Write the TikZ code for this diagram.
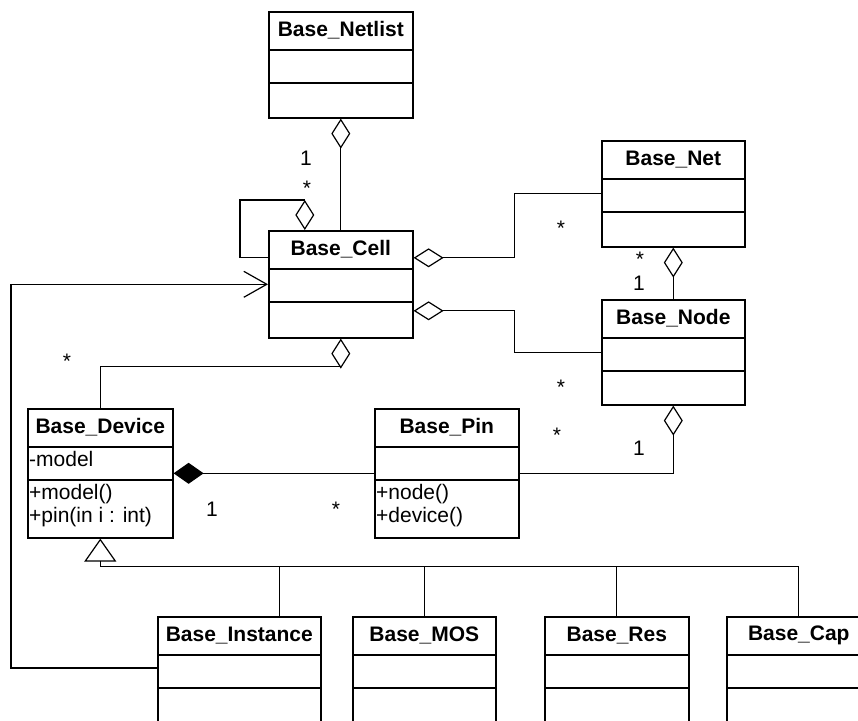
\documentclass[tikz,border=0pt]{standalone}
\usepackage{fontspec}
\setmainfont{Liberation Sans}
\usetikzlibrary{arrows.meta,positioning}

\newcommand{\umlclass}[8]{%
  \node[cls, minimum width=#4pt, minimum height=#5pt, anchor=north west] (#1) at (#2,#3) {};
  \node[clstitle] (#1-title) at ([yshift=-19.5pt]#1.north) {#6};
  \draw[clsline] ([yshift=-39pt]#1.north west) -- ([yshift=-39pt]#1.north east);
  \draw[clsline] ([yshift=-72pt]#1.north west) -- ([yshift=-72pt]#1.north east);
  \node[clstext] (#1-attr) at ([yshift=-39pt]#1.north west) {#7};
  \node[clstext] (#1-ops) at ([yshift=-72pt]#1.north west) {#8};
}

\begin{document}
\begin{tikzpicture}[
  x=1pt, y=-1pt,
  every node/.style={font=\fontsize{21}{23}\selectfont},
  cls/.style={draw, line width=1.6pt, inner sep=0pt},
  clsline/.style={line width=1.6pt},
  clstitle/.style={font=\fontsize{21}{23}\selectfont\bfseries, inner sep=0pt},
  clstext/.style={anchor=north west, align=left, inner xsep=2pt, inner ysep=4pt},
  mult/.style={inner sep=0pt},
  link/.style={line width=1.2pt},
  aggr/.style={link, {Diamond[open, length=30pt, width=19pt]}-},
  comp/.style={link, {Diamond[length=30pt, width=21pt]}-},
  gen/.style={link, {Triangle[open, length=23pt, width=32pt]}-},
  assoc/.style={link, -{Straight Barb[length=23pt, width=26pt]}}
]
\useasboundingbox (0,0) rectangle (858,720);
\clip (0,0) rectangle (858,720);

\umlclass{netlist}{268}{11}{144}{106}{Base\_Netlist}{}{}
\umlclass{cell}{268}{230}{144}{107}{Base\_Cell}{}{}
\umlclass{net}{601}{140}{143}{106}{Base\_Net}{}{}
\umlclass{bnode}{601}{299}{143}{105}{Base\_Node}{}{}
\umlclass{device}{27}{408}{145}{129}{Base\_Device}{-model}{+model()\\+pin(in i : int)}
\umlclass{pin}{374}{408}{144}{129}{Base\_Pin}{}{+node()\\+device()}
\umlclass{inst}{157}{616}{163}{132}{Base\_Instance}{}{}
\umlclass{mos}{352}{616}{143}{132}{Base\_MOS}{}{}
\umlclass{res}{544}{616}{144}{132}{Base\_Res}{}{}
\umlclass{cap}{726}{616}{144}{132}{Base\_Cap}{}{}

\draw[aggr] (netlist.south) -- (cell.north);
\draw[aggr] ([xshift=-36pt]cell.north) -- ++(0,-30) -| ([xshift=-28pt, yshift=26.5pt]cell.west) -- ([yshift=26.5pt]cell.west);
\draw[aggr] ([yshift=26.5pt]cell.east) -- ++(101,0) |- (net.west);
\draw[aggr] ([yshift=-26.5pt]cell.east) -- ++(101,0) |- (bnode.west);
\draw[aggr] (net.south) -- (bnode.north);
\draw[aggr] (bnode.south) |- (pin.east);
\draw[comp] (device.east) -- (pin.west);
\draw[aggr] (cell.south) -- ++(0,28) -| (device.north);

\coordinate (bus) at ([yshift=-28pt]device.south);
\draw[gen] (device.south) -- (bus) -| ([xshift=40.5pt]inst.north);
\draw[link] (bus) -| (mos.north);
\draw[link] (bus) -| (res.north);
\draw[link] (bus) -| (cap.north);

\draw[assoc] ([yshift=-52pt]inst.north west) -| ([xshift=-257pt]cell.west) -- (cell.west);

\node[mult] (m1) at (306,158) {1};
\node[mult] (m2) at (307,188) {*};
\node[mult] (m3) at (561,228) {*};
\node[mult] (m4) at (640,259) {*};
\node[mult] (m5) at (639,283) {1};
\node[mult] (m6) at (561,387) {*};
\node[mult] (m7) at (557,435) {*};
\node[mult] (m8) at (639,448) {1};
\node[mult] (m9) at (67,361) {*};
\node[mult] (m10) at (212,509) {1};
\node[mult] (m11) at (336,509) {*};
\end{tikzpicture}
\end{document}
